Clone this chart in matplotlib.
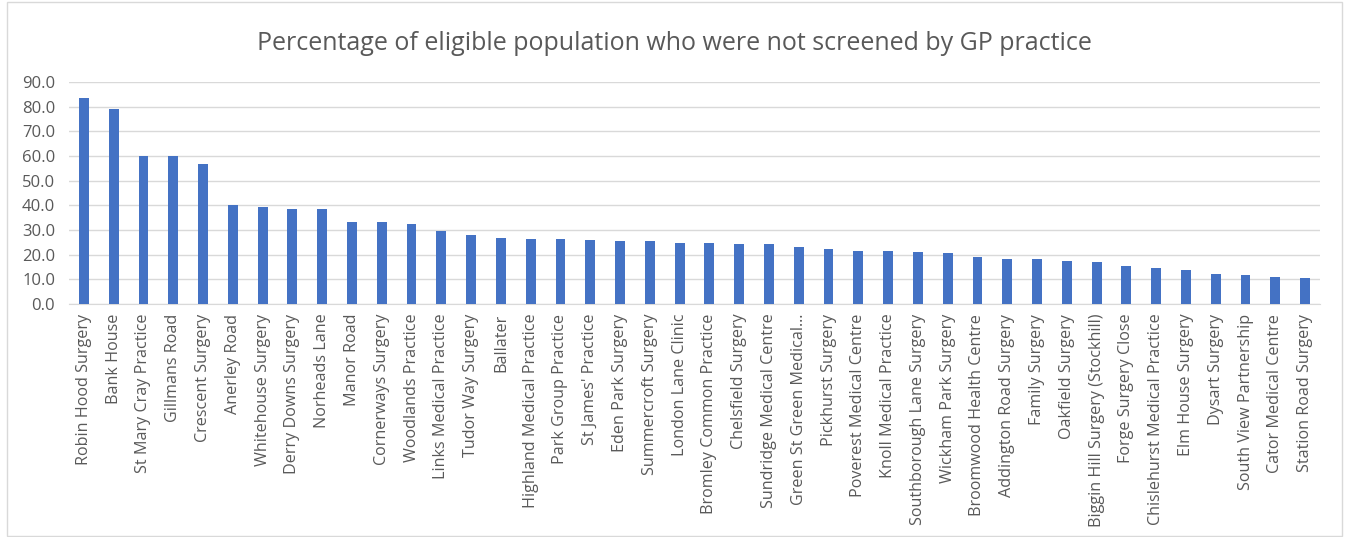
import matplotlib
matplotlib.use("Agg")
import matplotlib.pyplot as plt
from matplotlib.patches import Rectangle

practices = [
    "Robin Hood Surgery", "Bank House", "St Mary Cray Practice", "Gillmans Road",
    "Crescent Surgery", "Anerley Road", "Whitehouse Surgery", "Derry Downs Surgery",
    "Norheads Lane", "Manor Road", "Cornerways Surgery", "Woodlands Practice",
    "Links Medical Practice", "Tudor Way Surgery", "Ballater", "Highland Medical Practice",
    "Park Group Practice", "St James' Practice", "Eden Park Surgery", "Summercroft Surgery",
    "London Lane Clinic", "Bromley Common Practice", "Chelsfield Surgery",
    "Sundridge Medical Centre", "Green St Green Medical…", "Pickhurst Surgery",
    "Poverest Medical Centre", "Knoll Medical Practice", "Southborough Lane Surgery",
    "Wickham Park Surgery", "Broomwood Health Centre", "Addington Road Surgery",
    "Family Surgery", "Oakfield Surgery", "Biggin Hill Surgery (Stockhill)",
    "Forge Surgery Close", "Chislehurst Medical Practice", "Elm House Surgery",
    "Dysart Surgery", "South View Partnership", "Cator Medical Centre",
    "Station Road Surgery",
]
not_screened_pct = [
    83.5, 79.2, 60.2, 59.8, 56.7, 40.1, 39.3, 38.5,
    38.5, 33.4, 33.4, 32.6, 29.7, 27.9, 26.7, 26.3,
    26.3, 25.9, 25.5, 25.5, 24.7, 24.7, 24.3,
    24.3, 23.1, 22.3, 21.6, 21.6, 21.2,
    20.8, 18.9, 18.4, 18.1, 17.3, 16.9,
    15.3, 14.7, 13.9, 12.3, 11.9, 11.1, 10.7,
]
y_ticks = [0, 10, 20, 30, 40, 50, 60, 70, 80, 90]

W, H = 1346, 537
fig = plt.figure(figsize=(W / 100, H / 100), dpi=100)
fig.patch.set_facecolor("white")
fig.add_artist(Rectangle((7 / W, 1 / H), (1342 - 7) / W, (535 - 1) / H,
                         transform=fig.transFigure, fill=False,
                         edgecolor="#d9d9d9", linewidth=1))

left, right = 69 / W, 1320 / W
bottom, top = 1 - 304 / H, 1 - 82 / H
ax = fig.add_axes([left, bottom, right - left, top - bottom])

x = list(range(len(practices)))
ax.bar(x, not_screened_pct, width=0.33, color="#4472c4", zorder=3)
ax.set_xlim(-0.5, len(practices) - 0.5)
ax.set_ylim(0, 90)
ax.set_yticks(y_ticks)
ax.set_yticklabels([f"{v:.1f}" for v in y_ticks])
ax.set_xticks(x)
ax.set_xticklabels(practices, rotation=90)
ax.grid(axis="y", color="#d9d9d9", linewidth=1, zorder=0)
for s in ["top", "right", "left"]:
    ax.spines[s].set_visible(False)
ax.spines["bottom"].set_color("#d9d9d9")
ax.tick_params(axis="both", length=0, colors="#595959")
ax.tick_params(axis="y", pad=10, labelsize=12)
ax.tick_params(axis="x", pad=7, labelsize=11.6)
for lbl in ax.get_xticklabels() + ax.get_yticklabels():
    lbl.set_family("Open Sans")
    lbl.set_color("#595959")

fig.text(674 / W, 1 - 43 / H,
         "Percentage of eligible population who were not screened by GP practice",
         ha="center", va="center", fontsize=18, color="#595959", family="Open Sans")

fig.savefig("out.png", dpi=100)
